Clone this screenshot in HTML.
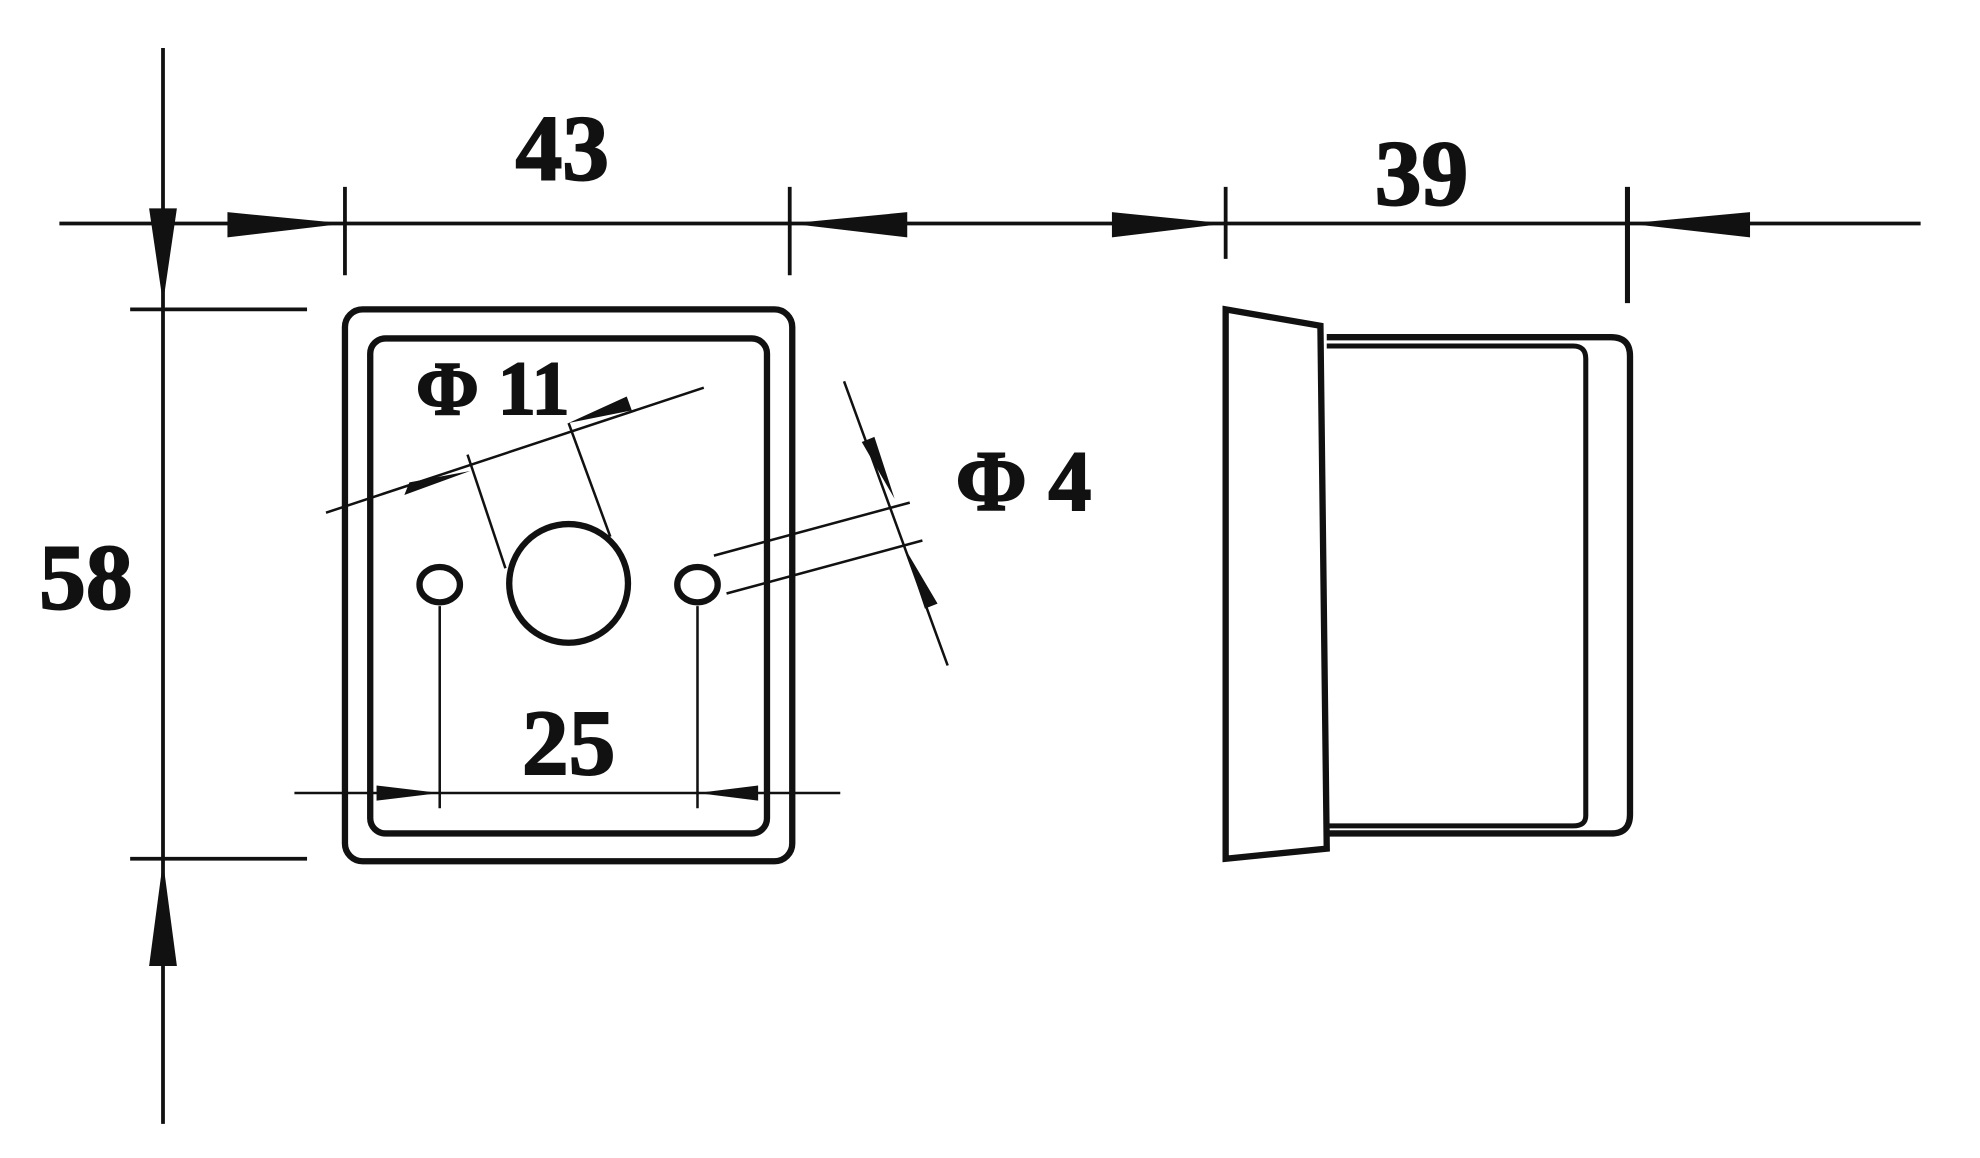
<!DOCTYPE html>
<html><head><style>html,body{margin:0;padding:0;background:#fff;}svg{display:block}</style></head>
<body>
<svg width="1980" height="1158" viewBox="0 0 1567 917" preserveAspectRatio="none" xmlns="http://www.w3.org/2000/svg">
<g stroke="#111" fill="none" stroke-width="3">
<line x1="47" y1="177" x2="1520" y2="177"/>
<line x1="129" y1="38" x2="129" y2="890"/>
<line x1="273" y1="148" x2="273" y2="218"/>
<line x1="625" y1="148" x2="625" y2="218"/>
<line x1="970" y1="148" x2="970" y2="205"/>
<line x1="1288" y1="148" x2="1288" y2="240" stroke-width="4"/>
<line x1="103" y1="245" x2="243" y2="245"/>
<line x1="103" y1="680" x2="243" y2="680"/>
<rect x="273" y="245" width="354" height="437" rx="14" stroke-width="5"/>
<rect x="293" y="268" width="314" height="392" rx="12" stroke-width="5"/>
<circle cx="450" cy="462" r="47" stroke-width="5"/>
<ellipse cx="348" cy="463" rx="16" ry="14" stroke-width="5"/>
<ellipse cx="552" cy="463" rx="16" ry="14" stroke-width="5"/>
<line x1="348" y1="480" x2="348" y2="640" stroke-width="2"/>
<line x1="552" y1="480" x2="552" y2="640" stroke-width="2"/>
<line x1="233" y1="628" x2="665" y2="628" stroke-width="2"/>
<line x1="258" y1="406" x2="557" y2="307" stroke-width="2"/>
<line x1="370" y1="360" x2="400" y2="450" stroke-width="2"/>
<line x1="450" y1="335" x2="483" y2="425" stroke-width="2"/>
<line x1="668" y1="302" x2="750" y2="527" stroke-width="2"/>
<line x1="565" y1="440" x2="720" y2="398" stroke-width="2"/>
<line x1="575" y1="470" x2="730" y2="428" stroke-width="2"/>
<path d="M970 245 L1045 258 L1050 672 L970 680 Z" stroke-width="5"/>
<path d="M1050 267 H1275 Q1290 267 1290 282 V645 Q1290 660 1275 660 H1050" stroke-width="5"/>
<path d="M1050 274 H1245 Q1255 274 1255 284 V646 Q1255 654 1245 654 H1050" stroke-width="4"/>
</g>
<g fill="#111">
<polygon points="118,165 140,165 129,240"/>
<polygon points="118,765 140,765 129,682"/>
<polygon points="180,168 180,188 273,177"/>
<polygon points="718,168 718,188 625,177"/>
<polygon points="880,168 880,188 970,177"/>
<polygon points="1385,168 1385,188 1288,177"/>
<polygon points="298,622 298,634 348,628"/>
<polygon points="600,622 600,634 552,628"/>
<polygon points="320,392 324,382 372,373"/>
<polygon points="500,325 496,314 450,335"/>
<polygon points="682,350 692,346 708,395"/>
<polygon points="742,478 732,482 716,434"/>
</g>
<g font-family="Liberation Serif, serif" font-weight="bold" fill="#111" font-size="74" text-anchor="middle" stroke="#111" stroke-width="1.5">
<text x="445" y="142">43</text>
<text x="1125" y="162">39</text>
<text x="68" y="482">58</text>
<text x="450" y="613">25</text>
<text x="390" y="328" font-size="60">Φ 11</text>
<text x="810" y="404" font-size="68">Φ 4</text>
</g>
</svg>
</body></html>
